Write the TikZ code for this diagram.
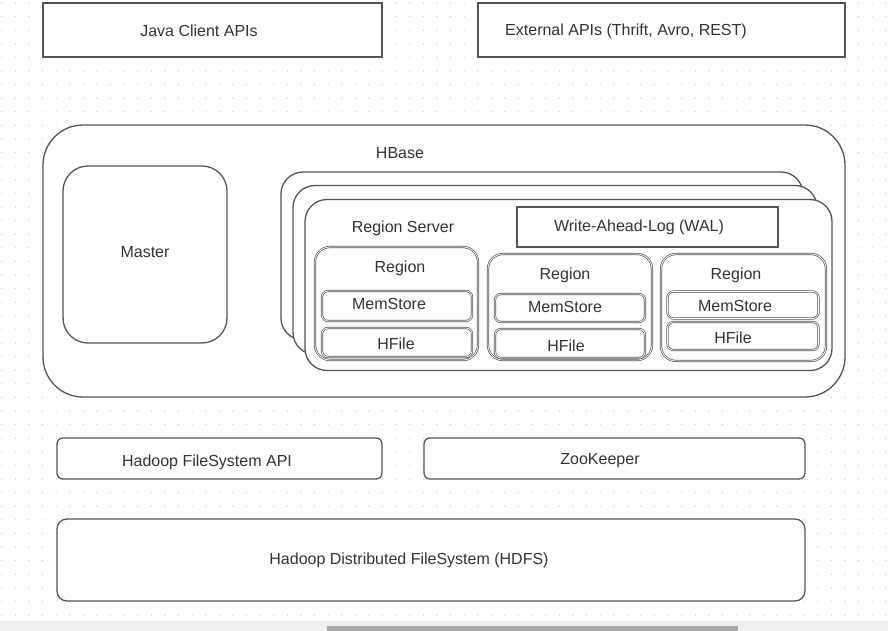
\documentclass[tikz,border=0pt]{standalone}
\usepackage{fontspec}
\setmainfont{Liberation Sans}
\definecolor{ln}{HTML}{555555}
\definecolor{tx}{HTML}{333333}
\definecolor{dotc}{HTML}{CFCFCF}
\definecolor{barbg}{HTML}{EEEEEE}
\definecolor{thumb}{HTML}{AAAAAA}
\tikzset{
  box/.style={draw=ln, line width=1.3pt, fill=white, inner sep=0pt, outer sep=0pt},
  rbox/.style={box, rounded corners=#1},
  dbox/.style={draw=ln, double=white, double distance=0.8pt, line width=0.7pt, fill=white, inner sep=0pt, outer sep=0pt, rounded corners=#1},
  lbl/.style={text=tx, font=\fontsize{16}{19}\selectfont, inner sep=0pt},
}
\begin{document}
\begin{tikzpicture}[x=1pt,y=-1pt]
\useasboundingbox (0,0) rectangle (888,631);
\fill[white] (0,0) rectangle (888,631);
% dotted grid
\foreach \i in {0,...,65}{
  \foreach \j in {0,...,45}{
    \fill[dotc] (1.7+13.6*\i, 3+13.6*\j) circle (0.75pt);
  }
}
% top APIs
\node[box, minimum width=339pt, minimum height=54pt] (java) at (212.5,30) {};
\node[lbl] (tjava) at (199,31) {Java Client APIs};
\node[box, minimum width=367pt, minimum height=54pt] (ext) at (661.5,30) {};
\node[lbl] (text) at (626,31) {External APIs (Thrift, Avro, REST)};
% HBase
\node[rbox=40pt, minimum width=802pt, minimum height=272pt] (hbase) at (444,261) {};
\node[lbl] (thbase) at (400,153) {HBase};
\node[rbox=25pt, minimum width=164pt, minimum height=177pt] (master) at (145,254.5) {};
\node[lbl] (tmaster) at (145,252) {Master};
% region server stack
\node[rbox=22pt, minimum width=522pt, minimum height=168pt] (card1) at (542,256) {};
\node[rbox=22pt, minimum width=524pt, minimum height=169pt] (card2) at (555,270) {};
\node[rbox=22pt, minimum width=527pt, minimum height=171pt] (card3) at (568.5,285) {};
\node[lbl] (trs) at (403,228) {Region Server};
\node[box, minimum width=261pt, minimum height=40pt] (wal) at (647.5,227) {};
\node[lbl] (twal) at (639,227) {Write-Ahead-Log (WAL)};
% regions
\node[dbox=15pt, minimum width=163pt, minimum height=113pt] (reg1) at (396.5,303.5) {};
\node[lbl] (treg1) at (400,268) {Region};
\node[dbox=6pt, minimum width=150pt, minimum height=30pt] (mem1) at (397,306) {};
\node[lbl] (tmem1) at (389,304) {MemStore};
\node[dbox=6pt, minimum width=150pt, minimum height=29pt] (hf1) at (397,342.5) {};
\node[lbl] (thf1) at (396,344) {HFile};
\node[dbox=15pt, minimum width=164pt, minimum height=106pt] (reg2) at (570,307) {};
\node[lbl] (treg2) at (565,275) {Region};
\node[dbox=6pt, minimum width=150pt, minimum height=28pt] (mem2) at (570,308) {};
\node[lbl] (tmem2) at (565,307) {MemStore};
\node[dbox=6pt, minimum width=150pt, minimum height=29pt] (hf2) at (570,343.5) {};
\node[lbl] (thf2) at (566,346) {HFile};
\node[dbox=15pt, minimum width=165pt, minimum height=107pt] (reg3) at (743.5,307.5) {};
\node[lbl] (treg3) at (736,275) {Region};
\node[dbox=6pt, minimum width=151pt, minimum height=27pt] (mem3) at (743,305) {};
\node[lbl] (tmem3) at (735,306) {MemStore};
\node[dbox=6pt, minimum width=151pt, minimum height=28pt] (hf3) at (743,336) {};
\node[lbl] (thf3) at (733,338) {HFile};
% bottom
\node[rbox=6pt, minimum width=325pt, minimum height=41pt] (hfs) at (219.5,458.5) {};
\node[lbl] (thfs) at (207,462) {Hadoop FileSystem API};
\node[rbox=6pt, minimum width=381pt, minimum height=41pt] (zk) at (614.5,458.5) {};
\node[lbl] (tzk) at (600,461) {ZooKeeper};
\node[rbox=10pt, minimum width=748pt, minimum height=82pt] (hdfs) at (431,560) {};
\node[lbl] (thdfs) at (409,560) {Hadoop Distributed FileSystem (HDFS)};
% scrollbar
\fill[barbg] (0,621) rectangle (888,631);
\fill[thumb] (327,626) rectangle (738,631);
\end{tikzpicture}
\end{document}
